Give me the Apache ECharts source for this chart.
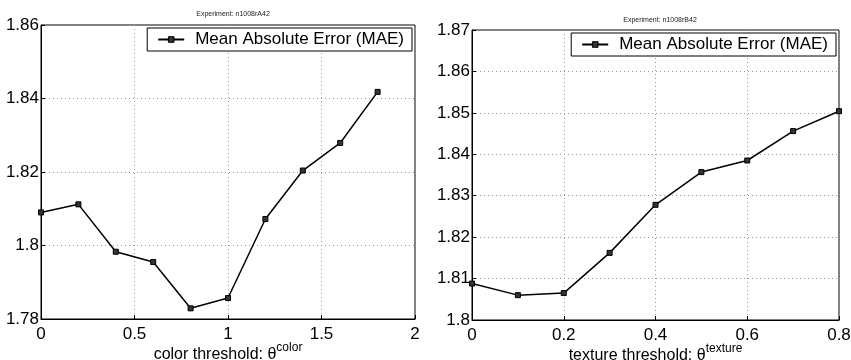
<!DOCTYPE html>
<html>
<head>
<meta charset="utf-8">
<script src="https://cdn.jsdelivr.net/npm/echarts@6/dist/echarts.min.js"></script>
<style>
  html, body { margin: 0; padding: 0; background: #fff; }
  #chart { width: 851px; height: 360px; }
</style>
</head>
<body>
<div id="chart"></div>
<script>
// left panel: color threshold
const colorX = [0, 0.2, 0.4, 0.6, 0.8, 1.0, 1.2, 1.4, 1.6, 1.8];
const colorMAE = [1.809, 1.8112, 1.7983, 1.7955, 1.7829, 1.7857, 1.8072, 1.8204, 1.8279, 1.8418];

// right panel: texture threshold
const textureX = [0, 0.1, 0.2, 0.3, 0.4, 0.5, 0.6, 0.7, 0.8];
const textureMAE = [1.8088, 1.806, 1.8065, 1.8162, 1.8278, 1.8357, 1.8385, 1.8456, 1.8504];

const titles = ['Experiment: n1008rA42', 'Experiment: n1008rB42'];
const seriesName = 'Mean Absolute Error (MAE)';

const chart = echarts.init(document.getElementById('chart'));
const font = 'Liberation Sans, Arial, Helvetica, sans-serif';

const fmt = (v) => String(+v.toFixed(2));

function xAxisFor(gridIndex, max, interval, word) {
  return {
    type: 'value',
    gridIndex: gridIndex,
    min: 0,
    max: max,
    interval: interval,
    name: '{a|' + word + ' threshold: θ}{s|' + word + '}',
    nameLocation: 'middle',
    nameGap: 22,
    nameMoveOverlap: false,
    nameTextStyle: {
      verticalAlign: 'top',
      rich: {
        a: { fontSize: 16, color: '#000', fontFamily: font, padding: [6, 0, 0, 0] },
        s: { fontSize: 12, color: '#000', fontFamily: font, padding: [0, 0, 8, 0] }
      }
    },
    axisLine: { show: true, lineStyle: { color: '#000', width: 1 } },
    axisTick: { show: true, inside: true, length: 4, lineStyle: { color: '#000' } },
    axisLabel: { color: '#000', fontSize: 17, fontFamily: font, margin: 7, formatter: fmt },
    splitLine: { show: true, lineStyle: { color: '#999', type: [1, 3], width: 1 } }
  };
}

function yAxisFor(gridIndex, min, max, interval) {
  return {
    type: 'value',
    gridIndex: gridIndex,
    min: min,
    max: max,
    interval: interval,
    axisLine: { show: true, lineStyle: { color: '#000', width: 1 } },
    axisTick: { show: true, inside: true, length: 4, lineStyle: { color: '#000' } },
    axisLabel: { color: '#000', fontSize: 17, fontFamily: font, margin: 2, formatter: fmt },
    splitLine: { show: true, lineStyle: { color: '#999', type: [1, 3], width: 1 } }
  };
}

function lineSeries(idx, xs, ys) {
  return {
    name: seriesName,
    type: 'line',
    xAxisIndex: idx,
    yAxisIndex: idx,
    data: xs.map((x, i) => [x, ys[i]]),
    symbol: 'rect',
    symbolSize: 5,
    itemStyle: { color: '#333', borderColor: '#000', borderWidth: 1 },
    lineStyle: { color: '#000', width: 1.5 },
    emphasis: { disabled: true },
    animation: false
  };
}

const legendBase = {
  data: [{ name: seriesName, itemStyle: { color: '#333', borderColor: '#000', borderWidth: 1 } }],
  orient: 'horizontal',
  borderColor: '#000',
  borderWidth: 1,
  backgroundColor: '#fff',
  borderRadius: 0,
  padding: [3, 8, 3, 10],
  itemWidth: 26,
  itemHeight: 7,
  selectedMode: false,
  textStyle: { fontSize: 17, color: '#000', fontFamily: font, padding: [0, 0, 0, 6] }
};

chart.setOption({
  animation: false,
  title: [
    { text: titles[0], left: 228, top: 6, textAlign: 'center',
      textStyle: { fontSize: 7, fontWeight: 'normal', color: '#222', fontFamily: font } },
    { text: titles[1], left: 655, top: 12, textAlign: 'center',
      textStyle: { fontSize: 7, fontWeight: 'normal', color: '#222', fontFamily: font } }
  ],
  legend: [
    Object.assign({}, legendBase, { right: 439, top: 28 }),
    Object.assign({}, legendBase, { right: 15, top: 33 })
  ],
  grid: [
    { left: 41, top: 25, width: 374, height: 294, show: true, borderColor: '#000', borderWidth: 1,
      backgroundColor: '#fff', outerBoundsMode: 'none', containLabel: false },
    { left: 472, top: 30, width: 367, height: 290, show: true, borderColor: '#000', borderWidth: 1,
      backgroundColor: '#fff', outerBoundsMode: 'none', containLabel: false }
  ],
  xAxis: [
    xAxisFor(0, 2, 0.5, 'color'),
    xAxisFor(1, 0.8, 0.2, 'texture')
  ],
  yAxis: [
    yAxisFor(0, 1.78, 1.86, 0.02),
    yAxisFor(1, 1.8, 1.87, 0.01)
  ],
  series: [
    lineSeries(0, colorX, colorMAE),
    lineSeries(1, textureX, textureMAE)
  ]
});
</script>
</body>
</html>
